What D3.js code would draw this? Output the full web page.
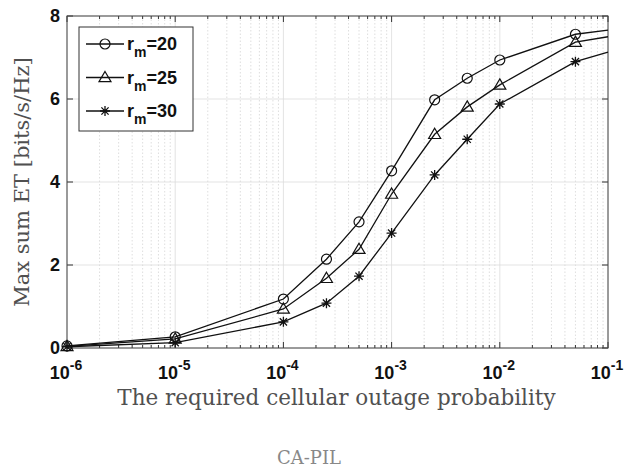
<!DOCTYPE html>
<html>
<head>
<meta charset="utf-8">
<script src="https://cdn.jsdelivr.net/npm/d3@7"></script>
<style>
  body { margin: 0; background: #fff; }
  .grid-major line { stroke: #dcdcdc; stroke-width: 0.8; }
  .grid-minor line { stroke: #d0d0d0; stroke-width: 0.7; stroke-dasharray: 1.5,2; }
  .tick-label { font-family: "Liberation Sans", Arial, sans-serif; font-weight: bold; font-size: 18px; fill: #111; }
  .axis-title { font-family: "DejaVu Serif", "Liberation Serif", serif; fill: #505050; }
</style>
</head>
<body>
<script>
// x values (outage probability) and the three series
var probs = [1e-6, 1e-5, 1e-4, 2.5e-4, 5e-4, 1e-3, 2.5e-3, 5e-3, 1e-2, 5e-2, 1e-1];
var rm20 = [0.05, 0.27, 1.18, 2.14, 3.04, 4.27, 5.98, 6.50, 6.94, 7.56, 7.66];
var rm25 = [0.04, 0.22, 0.94, 1.68, 2.38, 3.71, 5.15, 5.81, 6.34, 7.37, 7.50];
var rm30 = [0.03, 0.13, 0.63, 1.08, 1.73, 2.77, 4.17, 5.03, 5.88, 6.90, 7.13];
var seriesNames = ["20", "25", "30"];
var markers = ["circle", "triangle", "star"];
var xTickExp = [-6, -5, -4, -3, -2, -1];
var yTicks = [0, 2, 4, 6, 8];

var W = 627, H = 467;
var margin = {top: 16, right: 19, bottom: 119, left: 67},
    width = W - margin.left - margin.right,
    height = H - margin.top - margin.bottom;

var svg = d3.select("body").append("svg")
    .attr("width", W).attr("height", H);
var g = svg.append("g")
    .attr("transform", "translate(" + margin.left + "," + margin.top + ")");

var x = d3.scaleLog().domain([1e-6, 1e-1]).range([0, width]);
var y = d3.scaleLinear().domain([0, 8]).range([height, 0]);

// minor log ticks
var minor = [];
xTickExp.slice(0, -1).forEach(function(e) {
  for (var k = 2; k <= 9; k++) minor.push(k * Math.pow(10, e));
});
var major = xTickExp.map(function(e) { return Math.pow(10, e); });

// minor vertical grid (dotted)
g.append("g").attr("class", "grid-minor")
  .selectAll("line").data(minor).enter().append("line")
  .attr("x1", function(d) { return x(d); }).attr("x2", function(d) { return x(d); })
  .attr("y1", 0).attr("y2", height);

// major grid
var gm = g.append("g").attr("class", "grid-major");
gm.selectAll("line.v").data(major).enter().append("line").attr("class", "v")
  .attr("x1", function(d) { return x(d); }).attr("x2", function(d) { return x(d); })
  .attr("y1", 0).attr("y2", height);
gm.selectAll("line.h").data(yTicks).enter().append("line").attr("class", "h")
  .attr("x1", 0).attr("x2", width)
  .attr("y1", function(d) { return y(d); }).attr("y2", function(d) { return y(d); });

// inward ticks on all four sides
var tk = g.append("g").attr("stroke", "#333").attr("stroke-width", 1);
major.forEach(function(d) {
  tk.append("line").attr("x1", x(d)).attr("x2", x(d)).attr("y1", height).attr("y2", height - 6);
  tk.append("line").attr("x1", x(d)).attr("x2", x(d)).attr("y1", 0).attr("y2", 6);
});
minor.forEach(function(d) {
  tk.append("line").attr("x1", x(d)).attr("x2", x(d)).attr("y1", height).attr("y2", height - 3);
  tk.append("line").attr("x1", x(d)).attr("x2", x(d)).attr("y1", 0).attr("y2", 3);
});
yTicks.forEach(function(d) {
  tk.append("line").attr("x1", 0).attr("x2", 6).attr("y1", y(d)).attr("y2", y(d));
  tk.append("line").attr("x1", width).attr("x2", width - 6).attr("y1", y(d)).attr("y2", y(d));
});

// box
g.append("rect").attr("width", width).attr("height", height)
  .attr("fill", "none").attr("stroke", "#444").attr("stroke-width", 1);

// y tick labels
g.selectAll("text.yl").data(yTicks).enter().append("text")
  .attr("class", "tick-label")
  .attr("x", -7).attr("y", function(d) { return y(d); })
  .attr("dy", "0.36em").attr("text-anchor", "end")
  .text(function(d) { return d; });

// x tick labels 10^e
xTickExp.forEach(function(e) {
  var t = g.append("text").attr("class", "tick-label")
    .attr("x", x(Math.pow(10, e)) - 1).attr("y", height + 31)
    .attr("text-anchor", "middle");
  t.append("tspan").text("10");
  t.append("tspan").attr("dy", -9).style("font-size", "14px").text(String(e));
});

// axis titles
svg.append("text").attr("class", "axis-title")
  .attr("x", margin.left + width / 2 - 1).attr("y", 405)
  .attr("text-anchor", "middle").style("font-size", "21.5px")
  .text("The required cellular outage probability");
svg.append("text").attr("class", "axis-title")
  .attr("transform", "translate(29," + (margin.top + height / 2) + ") rotate(-90)")
  .attr("text-anchor", "middle").style("font-size", "21px")
  .text("Max sum ET [bits/s/Hz]");

svg.append("text")
  .attr("x", 309).attr("y", 464)
  .attr("text-anchor", "middle")
  .style("font-family", "\"DejaVu Serif\", serif").style("font-size", "18px").style("fill", "#888")
  .text("CA-PIL");

// lines and markers
var allSeries = [rm20, rm25, rm30];
var line = d3.line()
  .x(function(d) { return x(d[0]); })
  .y(function(d) { return y(d[1]); });

function drawMarker(sel, type, cx, cy) {
  if (type === "circle") {
    sel.append("circle").attr("cx", cx).attr("cy", cy).attr("r", 5)
      .attr("fill", "none").attr("stroke", "#111").attr("stroke-width", 1.2);
  } else if (type === "triangle") {
    var s = 6;
    sel.append("path")
      .attr("d", "M" + cx + "," + (cy - s) + "L" + (cx + s) + "," + (cy + s * 0.7) + "L" + (cx - s) + "," + (cy + s * 0.7) + "Z")
      .attr("fill", "none").attr("stroke", "#111").attr("stroke-width", 1.2);
  } else {
    var r = 5, d = 3.6;
    sel.append("path")
      .attr("d", "M" + (cx - r) + "," + cy + "H" + (cx + r) +
                 "M" + cx + "," + (cy - r) + "V" + (cy + r) +
                 "M" + (cx - d) + "," + (cy - d) + "L" + (cx + d) + "," + (cy + d) +
                 "M" + (cx - d) + "," + (cy + d) + "L" + (cx + d) + "," + (cy - d))
      .attr("stroke", "#111").attr("stroke-width", 1.3);
  }
}

allSeries.forEach(function(vals, i) {
  var pts = probs.map(function(p, j) { return [p, vals[j]]; });
  g.append("path").datum(pts)
    .attr("fill", "none").attr("stroke", "#111").attr("stroke-width", 1.3)
    .attr("d", line);
  var mg = g.append("g");
  // last point (1e-1) is the line end, no marker
  pts.slice(0, -1).forEach(function(p) {
    drawMarker(mg, markers[i], x(p[0]), y(p[1]));
  });
});

// legend
var lg = svg.append("g");
lg.append("rect").attr("x", 79).attr("y", 27).attr("width", 114).attr("height", 104)
  .attr("fill", "#fff").attr("stroke", "#333").attr("stroke-width", 1);
seriesNames.forEach(function(n, i) {
  var ly = 44 + i * 33.5;
  lg.append("line").attr("x1", 86).attr("x2", 124).attr("y1", ly).attr("y2", ly)
    .attr("stroke", "#111").attr("stroke-width", 1.3);
  drawMarker(lg, markers[i], 105, ly);
  var t = lg.append("text").attr("class", "tick-label")
    .attr("x", 127).attr("y", ly + 6).style("font-size", "18px");
  t.append("tspan").text("r");
  t.append("tspan").attr("dy", 7).style("font-size", "14px").text("m");
  t.append("tspan").attr("dy", -7).text("=" + n);
});
</script>
</body>
</html>
